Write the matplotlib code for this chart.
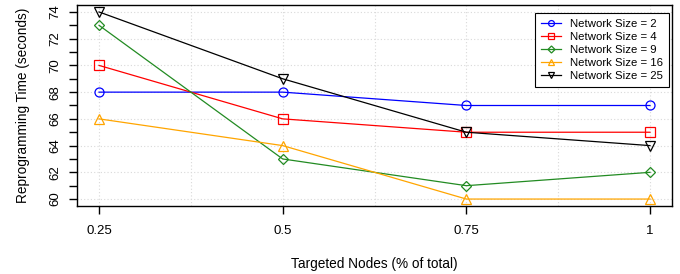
import matplotlib
matplotlib.use("Agg")
import matplotlib.pyplot as plt
import numpy as np

plt.rcParams['font.family'] = ['Liberation Sans', 'DejaVu Sans']

x_vals = [0.25, 0.5, 0.75, 1.0]
x_labels = ["0.25", "0.5", "0.75", "1"]
ns2 = [68, 68, 67, 67]
ns4 = [70, 66, 65, 65]
ns9 = [73, 63, 61, 62]
ns16 = [66, 64, 60, 60]
ns25 = [74, 69, 65, 64]
series = [
    ("Network Size = 2", ns2, "blue", "o"),
    ("Network Size = 4", ns4, "red", "s"),
    ("Network Size = 9", ns9, "#228B22", "D"),
    ("Network Size = 16", ns16, "orange", "^"),
    ("Network Size = 25", ns25, "black", "v"),
]

fig = plt.figure(figsize=(6.8, 2.74), dpi=100)
ax = fig.add_axes([77 / 680, 1 - 206 / 274, 595 / 680, 201 / 274])

for xv in np.arange(0.25, 1.0001, 0.125):
    ax.axvline(xv, color="#d9d9d9", lw=0.8, ls=(0, (1, 2)), zorder=0)
for yv in range(60, 75, 2):
    ax.axhline(yv, color="#d9d9d9", lw=0.8, ls=(0, (1, 2)), zorder=0)

for label, vals, col, mk in series:
    ms = 6.5 if mk != "D" else 5.5
    ax.plot(x_vals, vals, color=col, marker=mk, markersize=ms, markerfacecolor="none",
            markeredgecolor=col, lw=0.9, label=label, markeredgewidth=0.9)

ax.set_xlim(0.22, 1.03)
ax.set_ylim(59.48, 74.52)
ax.set_xticks(x_vals)
ax.set_xticklabels(x_labels)
ax.set_yticks(range(60, 75, 2))
ax.set_yticks(range(61, 75, 2), minor=True)
ax.set_yticklabels([str(v) for v in range(60, 75, 2)], rotation=90, va="center")
ax.tick_params(axis="both", which="both", direction="out", length=6, width=1, labelsize=9.5)
ax.tick_params(axis="x", pad=8)
ax.tick_params(axis="y", pad=5)
for sp in ax.spines.values():
    sp.set_linewidth(1)

ax.set_xlabel("Targeted Nodes (% of total)", fontsize=9.8, labelpad=14)
ax.set_ylabel("Reprogramming Time (seconds)", fontsize=9.8, labelpad=14)

leg = ax.legend(loc="upper right", fontsize=8.2, frameon=True, fancybox=False,
                borderpad=0.55, labelspacing=0.25, handlelength=1.7, handletextpad=0.8,
                borderaxespad=0.0, markerscale=0.65, bbox_to_anchor=((669 - 77) / 595, 1 - 8 / 201))
leg.get_frame().set_edgecolor("black")
leg.get_frame().set_linewidth(0.8)
leg.get_frame().set_alpha(1)

fig.savefig("out.png", dpi=100)
